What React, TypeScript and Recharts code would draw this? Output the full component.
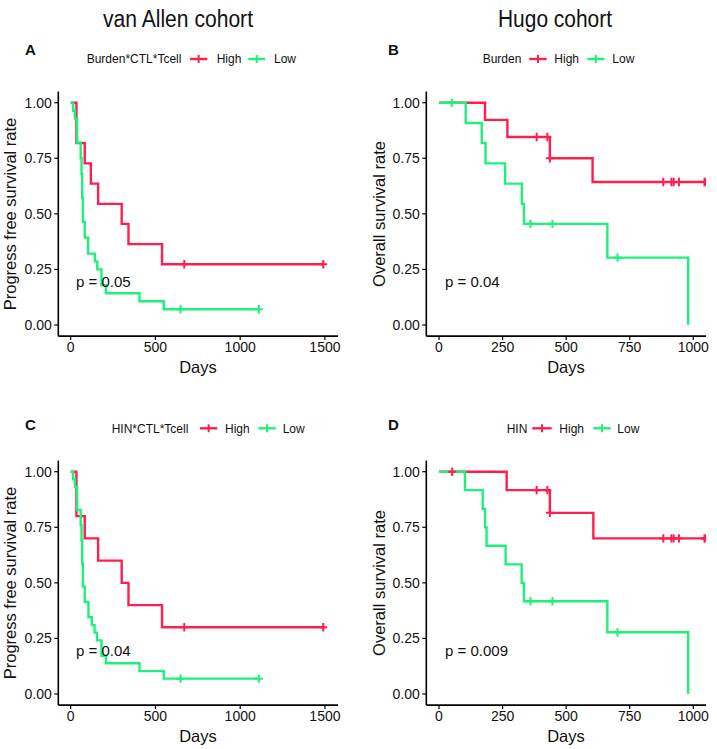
import React from 'react';
import { ComposedChart, Line, Scatter, XAxis, YAxis } from 'recharts';

const FONT = '"Liberation Sans", Arial, Helvetica, sans-serif';
const RED = '#FF1F4F';
const GREEN = '#1EF07A';

// ---------- Panel A: van Allen, Burden*CTL*Tcell ----------
const aHighTime = [0, 34, 83, 119, 162, 301, 341, 539, 1490];
const aHighSurv = [1, 0.818, 0.727, 0.636, 0.545, 0.455, 0.364, 0.273, 0.273];
const aHighCensTime = [670, 1490];
const aHighCensSurv = [0.273, 0.273];
const aLowTime = [0, 15, 25, 38, 59, 64, 68, 72, 83, 103, 143, 157, 182, 208, 406, 549, 1110];
const aLowSurv = [1, 0.964, 0.929, 0.821, 0.75, 0.679, 0.571, 0.464, 0.393, 0.321, 0.286, 0.25, 0.179, 0.143, 0.107, 0.071, 0.071];
const aLowCensTime = [648, 1110];
const aLowCensSurv = [0.071, 0.071];

// ---------- Panel B: Hugo, Burden ----------
const bHighTime = [0, 181, 269, 436, 604, 1050];
const bHighSurv = [1, 0.923, 0.846, 0.75, 0.643, 0.643];
const bHighCensTime = [384, 426, 436, 882, 914, 923, 944, 1044, 1050];
const bHighCensSurv = [0.846, 0.846, 0.75, 0.643, 0.643, 0.643, 0.643, 0.643, 0.643];
const bLowTime = [0, 105, 168, 183, 260, 326, 334, 662, 980];
const bLowSurv = [1, 0.909, 0.818, 0.727, 0.636, 0.545, 0.455, 0.303, 0];
const bLowCensTime = [50, 360, 446, 702];
const bLowCensSurv = [1, 0.455, 0.455, 0.303];

// ---------- Panel C: van Allen, HIN*CTL*Tcell ----------
const cHighTime = [0, 34, 83, 162, 301, 341, 539, 1490];
const cHighSurv = [1, 0.8, 0.7, 0.6, 0.5, 0.4, 0.3, 0.3];
const cHighCensTime = [670, 1490];
const cHighCensSurv = [0.3, 0.3];
const cLowTime = [0, 15, 25, 38, 59, 64, 68, 72, 83, 105, 125, 141, 155, 182, 208, 406, 549, 1110];
const cLowSurv = [1, 0.966, 0.931, 0.828, 0.759, 0.69, 0.586, 0.483, 0.414, 0.345, 0.31, 0.276, 0.241, 0.172, 0.138, 0.103, 0.069, 0.069];
const cLowCensTime = [648, 1110];
const cLowCensSurv = [0.069, 0.069];

// ---------- Panel D: Hugo, HIN ----------
const dHighTime = [0, 266, 436, 607, 1050];
const dHighSurv = [1, 0.917, 0.815, 0.7, 0.7];
const dHighCensTime = [52, 384, 426, 436, 882, 914, 923, 944, 1044, 1050];
const dHighCensSurv = [1, 0.917, 0.917, 0.815, 0.7, 0.7, 0.7, 0.7, 0.7, 0.7];
const dLowTime = [0, 102, 172, 181, 187, 262, 325, 334, 662, 980];
const dLowSurv = [1, 0.917, 0.833, 0.75, 0.667, 0.583, 0.5, 0.417, 0.278, 0];
const dLowCensTime = [360, 446, 702];
const dLowCensSurv = [0.417, 0.417, 0.278];

const yTicks = [0, 0.25, 0.5, 0.75, 1];
const xTicksVanAllen = [0, 500, 1000, 1500];
const xTicksHugo = [0, 250, 500, 750, 1000];

const pts = (t: number[], s: number[]) => t.map((v, i) => ({ t: v, s: s[i] }));

const Cross = (color: string) => (props: any) => {
  const { cx, cy } = props;
  if (cx == null || cy == null) return <g />;
  return (
    <path
      d={`M${cx - 4},${cy}H${cx + 4}M${cx},${cy - 4.2}V${cy + 4.2}`}
      stroke={color}
      strokeWidth={2}
      fill="none"
    />
  );
};

type PanelProps = {
  left: number;
  top: number;
  width: number;
  height: number;
  yAxisWidth: number;
  marginTop: number;
  marginRight: number;
  xAxisHeight: number;
  xDomain: [number, number];
  xTicks: number[];
  high: { t: number; s: number }[];
  low: { t: number; s: number }[];
  highCens: { t: number; s: number }[];
  lowCens: { t: number; s: number }[];
};

const tickStyle = { fontSize: 14, fill: '#111', fontFamily: FONT };

function KMPanel(p: PanelProps) {
  return (
    <div style={{ position: 'absolute', left: p.left, top: p.top, width: p.width, height: p.height }}>
      <ComposedChart
        width={p.width}
        height={p.height}
        margin={{ top: p.marginTop, right: p.marginRight, bottom: 0, left: 0 }}
      >
        <XAxis
          type="number"
          dataKey="t"
          domain={p.xDomain}
          allowDataOverflow
          ticks={p.xTicks}
          height={p.xAxisHeight}
          tick={tickStyle}
          tickSize={4}
          tickMargin={2}
          axisLine={{ stroke: '#000', strokeWidth: 1.6 }}
          tickLine={{ stroke: '#000', strokeWidth: 1.2 }}
        />
        <YAxis
          type="number"
          dataKey="s"
          domain={[-0.05, 1.05]}
          allowDataOverflow
          ticks={yTicks}
          width={p.yAxisWidth}
          tick={tickStyle}
          tickSize={4}
          tickMargin={2.5}
          tickFormatter={(v: number) => v.toFixed(2)}
          axisLine={{ stroke: '#000', strokeWidth: 1.6 }}
          tickLine={{ stroke: '#000', strokeWidth: 1.2 }}
        />
        <Line
          data={p.high}
          dataKey="s"
          type="stepAfter"
          stroke={RED}
          strokeWidth={2.4}
          dot={false}
          activeDot={false}
          isAnimationActive={false}
        />
        <Line
          data={p.low}
          dataKey="s"
          type="stepAfter"
          stroke={GREEN}
          strokeWidth={2.4}
          dot={false}
          activeDot={false}
          isAnimationActive={false}
        />
        <Scatter data={p.highCens} dataKey="s" shape={Cross(RED)} isAnimationActive={false} />
        <Scatter data={p.lowCens} dataKey="s" shape={Cross(GREEN)} isAnimationActive={false} />
      </ComposedChart>
    </div>
  );
}

function LegendKey({ x1, x2, y, color }: { x1: number; x2: number; y: number; color: string }) {
  const cx = (x1 + x2) / 2;
  return (
    <g>
      <line x1={x1} x2={x2} y1={y} y2={y} stroke={color} strokeWidth={2.4} />
      <line x1={cx} x2={cx} y1={y - 4} y2={y + 4} stroke={color} strokeWidth={2} />
    </g>
  );
}

function Legend({ y, label, labelX, hl1, hl2, highX, ll1, ll2, lowX }: any) {
  return (
    <g fontFamily={FONT} fontSize={12} fill="#111">
      <text x={labelX} y={y + 4.3}>{label}</text>
      <LegendKey x1={hl1} x2={hl2} y={y} color={RED} />
      <text x={highX} y={y + 4.3}>High</text>
      <LegendKey x1={ll1} x2={ll2} y={y} color={GREEN} />
      <text x={lowX} y={y + 4.3}>Low</text>
    </g>
  );
}

export default function App() {
  const vaDomain: [number, number] = [-73, 1577];
  const hugoDomain: [number, number] = [-50, 1050];
  return (
    <div style={{ position: 'absolute', left: 0, top: 0, width: 717, height: 749, background: '#fff', fontFamily: FONT }}>
      <KMPanel
        left={0} top={80} width={360} height={310}
        yAxisWidth={58.3} marginTop={11.6} marginRight={22} xAxisHeight={53.9}
        xDomain={vaDomain} xTicks={xTicksVanAllen}
        high={pts(aHighTime, aHighSurv)} low={pts(aLowTime, aLowSurv)}
        highCens={pts(aHighCensTime, aHighCensSurv)} lowCens={pts(aLowCensTime, aLowCensSurv)}
      />
      <KMPanel
        left={360} top={80} width={357} height={310}
        yAxisWidth={66.3} marginTop={11.6} marginRight={11} xAxisHeight={53.9}
        xDomain={hugoDomain} xTicks={xTicksHugo}
        high={pts(bHighTime, bHighSurv)} low={pts(bLowTime, bLowSurv)}
        highCens={pts(bHighCensTime, bHighCensSurv)} lowCens={pts(bLowCensTime, bLowCensSurv)}
      />
      <KMPanel
        left={0} top={449} width={360} height={300}
        yAxisWidth={58.3} marginTop={11.6} marginRight={22} xAxisHeight={43.9}
        xDomain={vaDomain} xTicks={xTicksVanAllen}
        high={pts(cHighTime, cHighSurv)} low={pts(cLowTime, cLowSurv)}
        highCens={pts(cHighCensTime, cHighCensSurv)} lowCens={pts(cLowCensTime, cLowCensSurv)}
      />
      <KMPanel
        left={360} top={449} width={357} height={300}
        yAxisWidth={66.3} marginTop={11.6} marginRight={11} xAxisHeight={43.9}
        xDomain={hugoDomain} xTicks={xTicksHugo}
        high={pts(dHighTime, dHighSurv)} low={pts(dLowTime, dLowSurv)}
        highCens={pts(dHighCensTime, dHighCensSurv)} lowCens={pts(dLowCensTime, dLowCensSurv)}
      />
      <svg width={717} height={749} style={{ position: 'absolute', left: 0, top: 0, pointerEvents: 'none' }}>
        <g fontFamily={FONT} fill="#111">
          <text x={178} y={26.5} fontSize={23} textAnchor="middle" textLength={150} lengthAdjust="spacingAndGlyphs">van Allen cohort</text>
          <text x={555} y={26.5} fontSize={23} textAnchor="middle" textLength={114} lengthAdjust="spacingAndGlyphs">Hugo cohort</text>

          <text x={25} y={55} fontSize={15} fontWeight="bold">A</text>
          <text x={388} y={55} fontSize={15} fontWeight="bold">B</text>
          <text x={25} y={430} fontSize={15} fontWeight="bold">C</text>
          <text x={388} y={430} fontSize={15} fontWeight="bold">D</text>
        </g>
        <Legend y={59} label="Burden*CTL*Tcell" labelX={86.7} hl1={190} hl2={207.3} highX={216.7} ll1={248.3} ll2={265} lowX={274} />
        <Legend y={59} label="Burden" labelX={482.7} hl1={529.3} hl2={546.7} highX={554.3} ll1={587.3} ll2={604.3} lowX={612.3} />
        <Legend y={428.3} label="HIN*CTL*Tcell" labelX={111.7} hl1={200} hl2={217.3} highX={225} ll1={258.3} ll2={275.7} lowX={282.7} />
        <Legend y={428.3} label="HIN" labelX={506.7} hl1={532.3} hl2={551.7} highX={559.3} ll1={593.3} ll2={610.7} lowX={617.3} />
        <g fontFamily={FONT} fill="#111" fontSize={16.5}>
          <text transform="translate(15.5,214) rotate(-90)" textAnchor="middle">Progress free survival rate</text>
          <text transform="translate(384.5,214) rotate(-90)" textAnchor="middle">Overall survival rate</text>
          <text transform="translate(15.5,583) rotate(-90)" textAnchor="middle">Progress free survival rate</text>
          <text transform="translate(384.5,583) rotate(-90)" textAnchor="middle">Overall survival rate</text>
          <text x={198} y={373} textAnchor="middle">Days</text>
          <text x={566} y={373} textAnchor="middle">Days</text>
          <text x={198} y={742} textAnchor="middle">Days</text>
          <text x={566} y={742} textAnchor="middle">Days</text>
        </g>
        <g fontFamily={FONT} fill="#111" fontSize={15}>
          <text x={76} y={287}>p = 0.05</text>
          <text x={445} y={287}>p = 0.04</text>
          <text x={76} y={655.5}>p = 0.04</text>
          <text x={445} y={655.5}>p = 0.009</text>
        </g>
      </svg>
    </div>
  );
}
